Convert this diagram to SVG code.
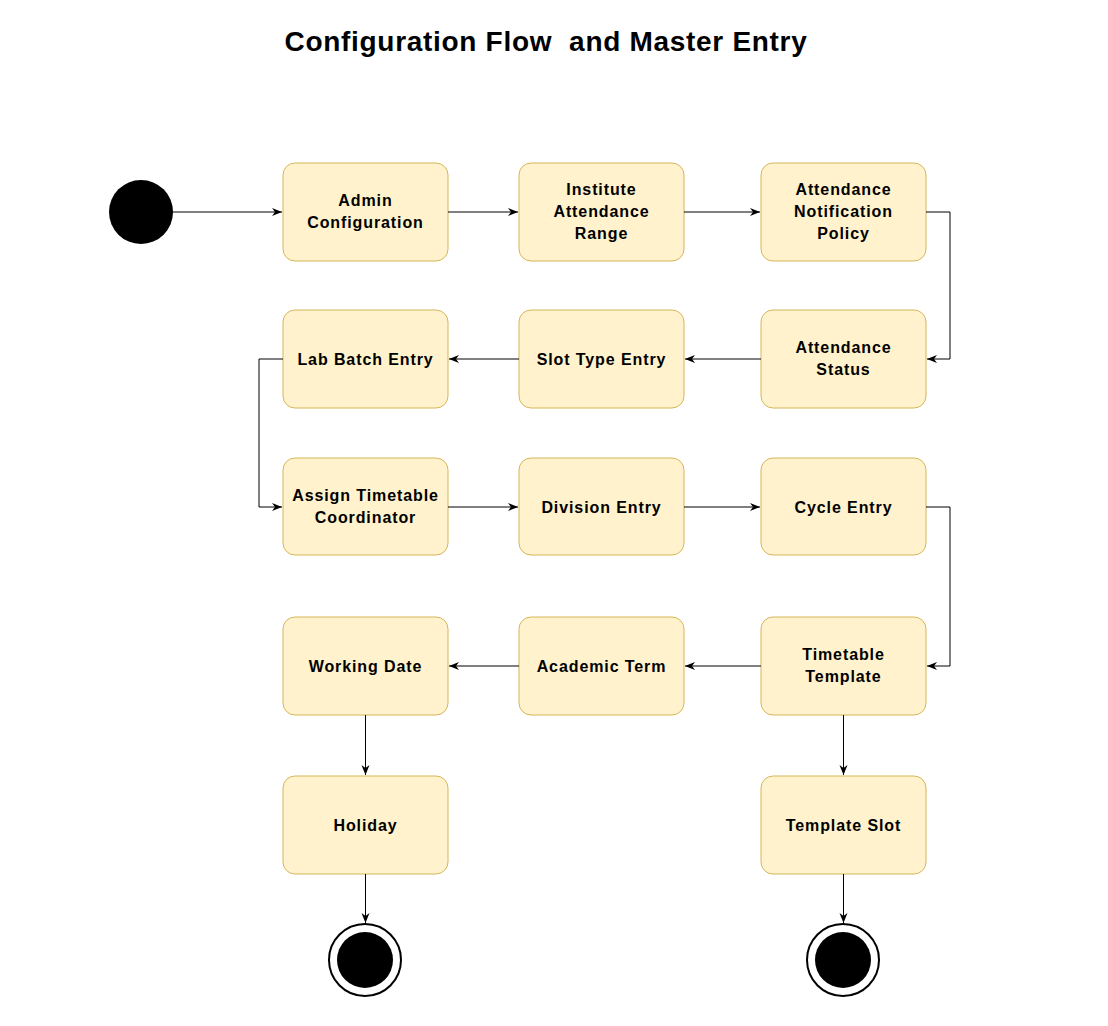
<svg xmlns="http://www.w3.org/2000/svg" width="1108" height="1026" viewBox="0 0 1108 1026">
<defs>
<style>
.n{fill:#fff2cc;stroke:#d6b656;stroke-width:1}
.t{font-family:"Liberation Sans",Arial,sans-serif;font-weight:bold;font-size:16px;letter-spacing:0.9px;fill:#000;text-anchor:middle}
.e{fill:none;stroke:#000;stroke-width:1}
.title{font-family:"Liberation Sans",Arial,sans-serif;font-weight:bold;font-size:28px;letter-spacing:0.7px;fill:#000;text-anchor:middle}
</style>
<marker id="a" viewBox="0 0 10 10" refX="10" refY="5" markerWidth="10" markerHeight="10" markerUnits="userSpaceOnUse" orient="auto">
<path d="M0,1 L10,5 L0,9 L3,5 Z" fill="#000"/>
</marker>
</defs>
<rect width="1108" height="1026" fill="#fff"/>
<text class="title" x="546" y="51" xml:space="preserve">Configuration Flow  and Master Entry</text>
<g id="start"><circle cx="141" cy="212" r="32" fill="#000"/></g>
<g id="n1"><rect class="n" x="283" y="163" width="165" height="98" rx="12"/><text class="t" x="365.5" y="206">Admin</text><text class="t" x="365.5" y="228">Configuration</text></g>
<g id="n2"><rect class="n" x="519" y="163" width="165" height="98" rx="12"/><text class="t" x="601.5" y="195">Institute</text><text class="t" x="601.5" y="217">Attendance</text><text class="t" x="601.5" y="239">Range</text></g>
<g id="n3"><rect class="n" x="761" y="163" width="165" height="98" rx="12"/><text class="t" x="843.5" y="195">Attendance</text><text class="t" x="843.5" y="217">Notification</text><text class="t" x="843.5" y="239">Policy</text></g>
<g id="n4"><rect class="n" x="761" y="310" width="165" height="98" rx="12"/><text class="t" x="843.5" y="353">Attendance</text><text class="t" x="843.5" y="375">Status</text></g>
<g id="n5"><rect class="n" x="519" y="310" width="165" height="98" rx="12"/><text class="t" x="601.5" y="365">Slot Type Entry</text></g>
<g id="n6"><rect class="n" x="283" y="310" width="165" height="98" rx="12"/><text class="t" x="365.5" y="365">Lab Batch Entry</text></g>
<g id="n7"><rect class="n" x="283" y="458" width="165" height="97" rx="12"/><text class="t" x="365.5" y="501">Assign Timetable</text><text class="t" x="365.5" y="523">Coordinator</text></g>
<g id="n8"><rect class="n" x="519" y="458" width="165" height="97" rx="12"/><text class="t" x="601.5" y="513">Division Entry</text></g>
<g id="n9"><rect class="n" x="761" y="458" width="165" height="97" rx="12"/><text class="t" x="843.5" y="513">Cycle Entry</text></g>
<g id="n10"><rect class="n" x="761" y="617" width="165" height="98" rx="12"/><text class="t" x="843.5" y="660">Timetable</text><text class="t" x="843.5" y="682">Template</text></g>
<g id="n11"><rect class="n" x="519" y="617" width="165" height="98" rx="12"/><text class="t" x="601.5" y="672">Academic Term</text></g>
<g id="n12"><rect class="n" x="283" y="617" width="165" height="98" rx="12"/><text class="t" x="365.5" y="672">Working Date</text></g>
<g id="n13"><rect class="n" x="283" y="776" width="165" height="98" rx="12"/><text class="t" x="365.5" y="831">Holiday</text></g>
<g id="n14"><rect class="n" x="761" y="776" width="165" height="98" rx="12"/><text class="t" x="843.5" y="831">Template Slot</text></g>
<g id="end1"><circle cx="365" cy="960" r="36" fill="#fff" stroke="#000" stroke-width="2"/><circle cx="365" cy="960" r="28" fill="#000"/></g>
<g id="end2"><circle cx="843" cy="960" r="36" fill="#fff" stroke="#000" stroke-width="2"/><circle cx="843" cy="960" r="28" fill="#000"/></g>
<g id="edges">
<path class="e" marker-end="url(#a)" d="M173,212 H282"/>
<path class="e" marker-end="url(#a)" d="M448,212 H518"/>
<path class="e" marker-end="url(#a)" d="M684,212 H760"/>
<path class="e" marker-end="url(#a)" d="M926,212 H950 V359 H927"/>
<path class="e" marker-end="url(#a)" d="M761,359 H685"/>
<path class="e" marker-end="url(#a)" d="M519,359 H449"/>
<path class="e" marker-end="url(#a)" d="M283,359 H259 V507 H282"/>
<path class="e" marker-end="url(#a)" d="M448,507 H518"/>
<path class="e" marker-end="url(#a)" d="M684,507 H760"/>
<path class="e" marker-end="url(#a)" d="M926,507 H950 V666 H927"/>
<path class="e" marker-end="url(#a)" d="M761,666 H685"/>
<path class="e" marker-end="url(#a)" d="M519,666 H449"/>
<path class="e" marker-end="url(#a)" d="M365.5,715 V775"/>
<path class="e" marker-end="url(#a)" d="M365.5,874 V923"/>
<path class="e" marker-end="url(#a)" d="M843.5,715 V775"/>
<path class="e" marker-end="url(#a)" d="M843.5,874 V923"/>
</g>
</svg>
